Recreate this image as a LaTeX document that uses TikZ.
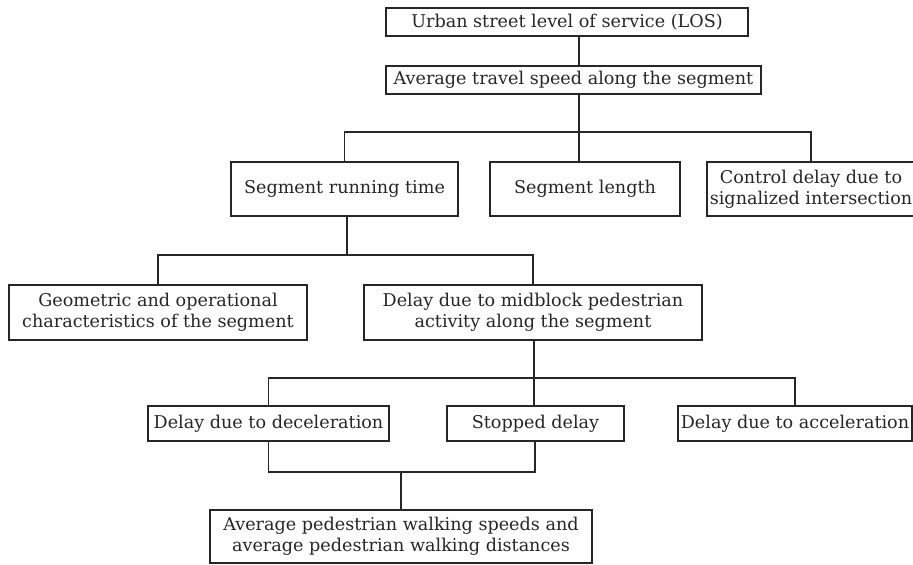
\documentclass[tikz,border=0pt]{standalone}
\usepackage{fontspec}
\setmainfont{DejaVu Serif}
\begin{document}
\begin{tikzpicture}[x=0.75pt,y=-0.75pt,
  box/.style={draw=black!85, line width=0.9pt, align=center, inner sep=0pt,
    font=\fontsize{13.2}{16}\selectfont, text=black!85},
  conn/.style={draw=black!85, line width=0.9pt}]
\useasboundingbox (0,0) rectangle (913,564);
\node[box, minimum width=271.5pt, minimum height=21pt] (b1) at (567,22) {Urban street level of service (LOS)};
\node[box, minimum width=281.25pt, minimum height=21pt] (b2) at (573.5,80) {Average travel speed along the segment};
\node[box, minimum width=170.25pt, minimum height=40.5pt] (b3) at (344.5,189) {Segment running time};
\node[box, minimum width=142.5pt, minimum height=40.5pt] (b4) at (585,189) {Segment length};
\node[box, minimum width=156pt, minimum height=40.5pt] (b5) at (811,189) {Control delay due to\\signalized intersection};
\node[box, minimum width=223.5pt, minimum height=41.25pt] (b6) at (158,312.5) {Geometric and operational\\characteristics of the segment};
\node[box, minimum width=253.5pt, minimum height=41.25pt] (b7) at (533,312.5) {Delay due to midblock pedestrian\\activity along the segment};
\node[box, minimum width=180.75pt, minimum height=26.25pt] (b8) at (268.5,423.5) {Delay due to deceleration};
\node[box, minimum width=132.75pt, minimum height=26.25pt] (b9) at (535.5,423.5) {Stopped delay};
\node[box, minimum width=175.5pt, minimum height=26.25pt] (b10) at (795,423.5) {Delay due to acceleration};
\node[box, minimum width=286.5pt, minimum height=39.75pt] (b11) at (401,536.5) {Average pedestrian walking speeds and\\average pedestrian walking distances};
% connectors
\draw[conn] (b1.south -| 579,0) -- (b2.north -| 579,0);
\coordinate (j1) at (579,132);
\draw[conn] (b2.south -| j1) -- (j1);
\draw[conn] (b3.north) |- (j1) -| (b5.north);
\draw[conn] (j1) -- (j1 |- b4.north);
\coordinate (j2) at (347,255);
\draw[conn] (b3.south -| j2) -- (j2);
\draw[conn] (b6.north) |- (j2) -| (b7.north);
\coordinate (j3) at (534,378);
\draw[conn] (b7.south -| j3) -- (j3);
\draw[conn] (b8.north) |- (j3) -| (b10.north);
\draw[conn] (j3) -- (j3 |- b9.north);
\coordinate (j4) at (268.5,472);
\coordinate (j5) at (535,472);
\coordinate (j6) at (401,472);
\draw[conn] (b8.south) -- (j4) -- (j5) -- (b9.south -| j5);
\draw[conn] (j6) -- (b11.north);
\end{tikzpicture}
\end{document}
